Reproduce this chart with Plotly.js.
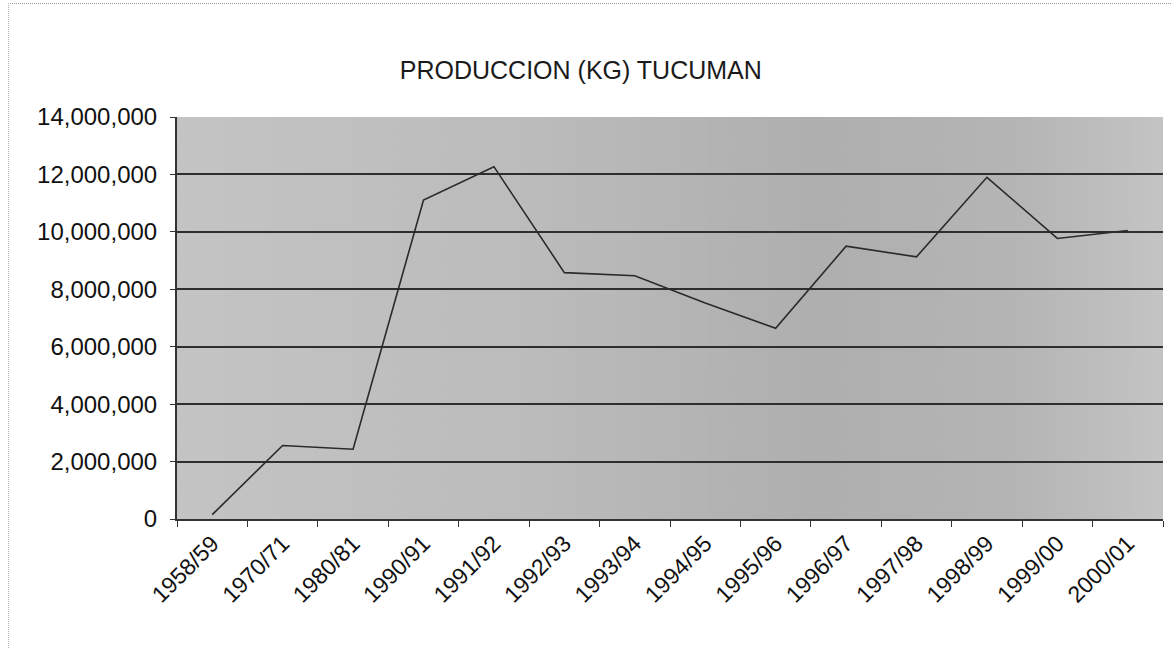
<!DOCTYPE html>
<html>
<head>
<meta charset="utf-8">
<script src="https://cdn.plot.ly/plotly-3.0.1.min.js"></script>
<style>
  html, body { margin: 0; padding: 0; background: #ffffff; }
  #wrap { position: relative; width: 1171px; height: 649px; overflow: hidden; }
  #frame { position: absolute; left: 8px; top: 3px; width: 1200px; height: 700px;
           border-top: 1px dotted #9a9a9a; border-left: 1px dotted #b0b0b0; pointer-events: none; z-index: 5; }
  #chart { width: 1171px; height: 649px; }
</style>
</head>
<body>
<div id="wrap">
  <div id="chart"></div>
  <div id="frame"></div>
</div>
<script>
// ---- data ----
const chartTitle = "PRODUCCION (KG) TUCUMAN";
const campaigns = ["1958/59", "1970/71", "1980/81", "1990/91", "1991/92", "1992/93", "1993/94",
                   "1994/95", "1995/96", "1996/97", "1997/98", "1998/99", "1999/00", "2000/01"];
const productionKg = [150000, 2560000, 2430000, 11110000, 12270000, 8580000, 8470000,
                      7520000, 6640000, 9500000, 9130000, 11900000, 9770000, 10050000];
const yTickValues = [0, 2000000, 4000000, 6000000, 8000000, 10000000, 12000000, 14000000];

// background shading (Excel-like textured fill approximated by a gradient)
function makeBg() {
  const c = document.createElement("canvas");
  c.width = 400; c.height = 100;
  const g = c.getContext("2d");
  const grd = g.createLinearGradient(0, 0, 400, 0);
  grd.addColorStop(0, "#c4c4c4");
  grd.addColorStop(0.35, "#bcbcbc");
  grd.addColorStop(0.65, "#afafaf");
  grd.addColorStop(0.85, "#b5b5b5");
  grd.addColorStop(1, "#c4c4c4");
  g.fillStyle = grd;
  g.fillRect(0, 0, 400, 100);
  return c.toDataURL("image/png");
}

const trace = {
  type: "scatter",
  mode: "lines",
  x: campaigns,
  y: productionKg,
  line: { color: "#2a2a2a", width: 1.6 },
  hoverinfo: "x+y"
};

const layout = {
  width: 1171,
  height: 649,
  margin: { l: 177, r: 8, t: 117, b: 130 },
  paper_bgcolor: "rgba(0,0,0,0)",
  plot_bgcolor: "#bababa",
  showlegend: false,
  font: { family: "Liberation Sans, Arial, sans-serif", color: "#111111" },
  title: {
    text: chartTitle,
    font: { family: "Liberation Sans, Arial, sans-serif", size: 25, color: "#1a1a1a" },
    x: 0.496, xref: "container", xanchor: "center",
    y: 0.892, yref: "container", yanchor: "middle"
  },
  xaxis: {
    type: "category",
    tickangle: -45,
    tickson: "boundaries",
    ticks: "outside",
    ticklen: 6,
    tickcolor: "#333333",
    tickwidth: 1,
    showgrid: false,
    showline: true,
    linecolor: "#333333",
    linewidth: 2,
    tickfont: { size: 23, color: "#111111" },
    range: [-0.5, campaigns.length - 0.5],
    fixedrange: true
  },
  yaxis: {
    range: [0, 14000000],
    tickvals: yTickValues,
    tickformat: ",d",
    ticks: "outside",
    ticklen: 5,
    tickcolor: "#333333",
    showgrid: true,
    gridcolor: "#2e2e2e",
    gridwidth: 2,
    zeroline: false,
    showline: true,
    linecolor: "#333333",
    linewidth: 2,
    tickfont: { size: 24, color: "#111111" },
    ticklabelstandoff: 8,
    fixedrange: true
  },
  images: [{
    source: makeBg(),
    xref: "paper", yref: "paper",
    x: 0, y: 1, sizex: 1, sizey: 1,
    sizing: "stretch", layer: "below"
  }]
};

Plotly.newPlot("chart", [trace], layout, { displayModeBar: false, staticPlot: true });
</script>
</body>
</html>
